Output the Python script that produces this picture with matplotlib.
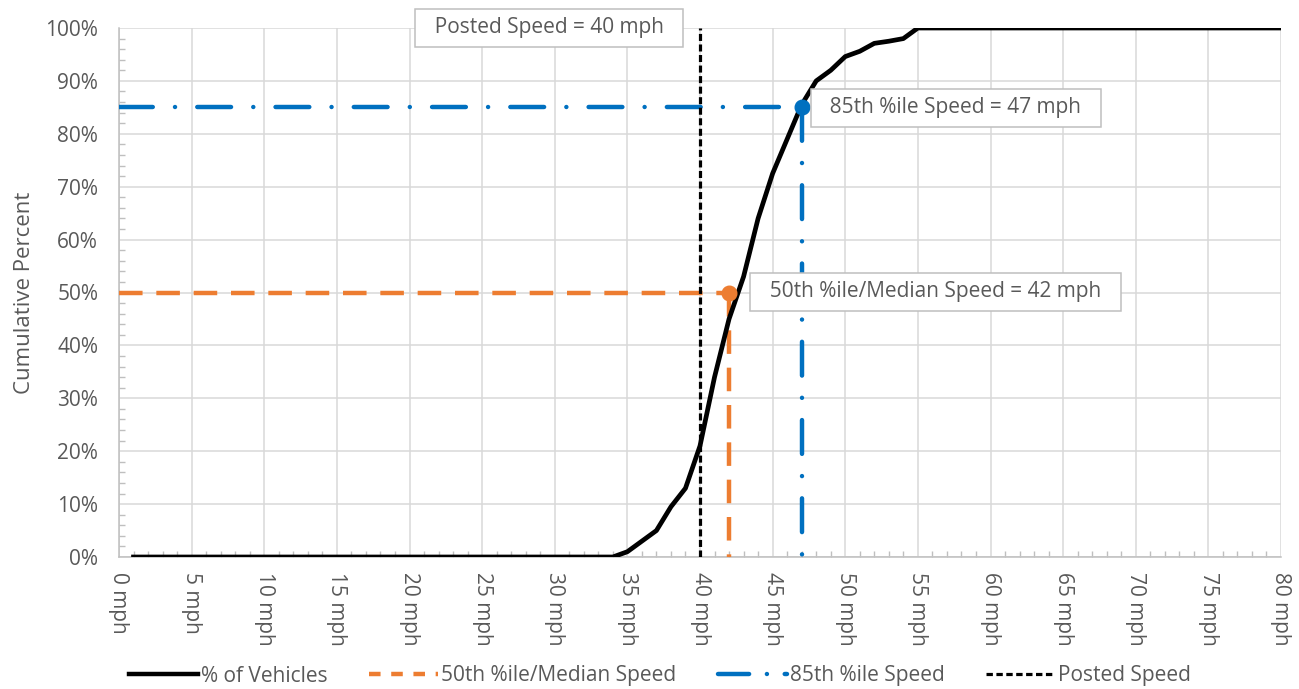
import matplotlib
matplotlib.use("Agg")
import matplotlib.pyplot as plt
from matplotlib.ticker import MultipleLocator, FuncFormatter
from matplotlib.lines import Line2D

speeds = list(range(1, 81))
pct_vehicles = [0, 0, 0, 0, 0, 0, 0, 0, 0, 0,
                0, 0, 0, 0, 0, 0, 0, 0, 0, 0,
                0, 0, 0, 0, 0, 0, 0, 0, 0, 0,
                0, 0, 0, 0, 1, 3, 5, 9.5, 13, 21,
                34, 45, 53, 64, 72.5, 79, 85.5, 90, 92, 94.6,
                95.6, 97.1, 97.5, 98, 100, 100, 100, 100, 100, 100,
                100, 100, 100, 100, 100, 100, 100, 100, 100, 100,
                100, 100, 100, 100, 100, 100, 100, 100, 100, 100]

median_speed = 42
median_pct = 50
p85_speed = 47
p85_pct = 85
posted_speed = 40

x_ticks = list(range(0, 81, 5))
y_ticks = list(range(0, 101, 10))

legend_labels = ["% of Vehicles", "50th %ile/Median Speed", "85th %ile Speed", "Posted Speed"]
label_median = "50th %ile/Median Speed = 42 mph"
label_p85 = "85th %ile Speed = 47 mph"
label_posted = "Posted Speed = 40 mph"

plt.rcParams['font.family'] = ['Open Sans', 'DejaVu Sans']
TXT = '#595959'
GRID = '#d9d9d9'
AX = '#bfbfbf'
ORANGE = '#ed7d31'
BLUE = '#0070c0'
FS = 15

fig = plt.figure(figsize=(12.99, 6.89), dpi=100)
ax = fig.add_axes([119/1299, 1 - 557/689, (1281-119)/1299, (557-28)/689])

ax.set_xlim(0, 80)
ax.set_ylim(0, 100)
ax.set_xticks(x_ticks)
ax.set_yticks(y_ticks)
ax.xaxis.set_minor_locator(MultipleLocator(1))
ax.yaxis.set_minor_locator(MultipleLocator(2))
ax.xaxis.set_major_formatter(FuncFormatter(lambda v, p: f"{int(v)} mph"))
ax.yaxis.set_major_formatter(FuncFormatter(lambda v, p: f"{int(v)}%"))
ax.grid(True, which='major', color=GRID, lw=1.1, zorder=0)
for s in ['top', 'right']:
    ax.spines[s].set_visible(False)
for s in ['left', 'bottom']:
    ax.spines[s].set_color(AX)
    ax.spines[s].set_linewidth(1.1)
ax.tick_params(axis='both', which='major', length=0, labelsize=FS, labelcolor=TXT)
ax.tick_params(axis='x', which='major', pad=11)
ax.tick_params(axis='y', which='major', pad=15)
ax.tick_params(axis='both', which='minor', direction='in', length=4, color=AX, width=1)
for lab in ax.get_xticklabels():
    lab.set_rotation(-90)
ax.set_ylabel("Cumulative Percent", fontsize=16, color=TXT)
ax.yaxis.set_label_coords(-84/1162, 0.5)

# reference lines
lw_ref = 3.2
ax.plot([0, median_speed], [median_pct, median_pct], color=ORANGE, lw=lw_ref,
        dashes=(5.3, 3.1), zorder=3)
ax.plot([median_speed, median_speed], [median_pct, 0], color=ORANGE, lw=lw_ref,
        dashes=(5.3, 3.1), zorder=3)
blue_dash = (7.6, 5.0, 0.01, 5.0)
ax.plot([0, p85_speed], [p85_pct, p85_pct], color=BLUE, lw=lw_ref,
        dashes=blue_dash, dash_capstyle='round', zorder=3)
ax.plot([p85_speed, p85_speed], [p85_pct, 0], color=BLUE, lw=lw_ref,
        dashes=blue_dash, dash_capstyle='round', zorder=3)
ax.plot([posted_speed, posted_speed], [0, 100], color='black', lw=2.3,
        dashes=(2.2, 1.1), zorder=4)

ax.plot(speeds, pct_vehicles, color='black', lw=3.4, zorder=5, solid_joinstyle='round')

ax.plot([median_speed], [median_pct], 'o', color=ORANGE, ms=10.5, zorder=6)
ax.plot([p85_speed], [p85_pct], 'o', color=BLUE, ms=10.5, zorder=6)

box = dict(boxstyle='square,pad=0.42', fc='white', ec='#bfbfbf', lw=1.1)
ax.text(29.6, 100, "  " + label_posted + "  ", ha='center', va='center', fontsize=FS,
        color=TXT, bbox=box, zorder=7, clip_on=False)
ax.text(57.6, 84.9, "  " + label_p85 + "  ", ha='center', va='center', fontsize=FS,
        color=TXT, bbox=box, zorder=7)
ax.text(56.2, 50.1, "  " + label_median + "  ", ha='center', va='center', fontsize=FS,
        color=TXT, bbox=box, zorder=7)

handles = [
    Line2D([], [], color='black', lw=3.2),
    Line2D([], [], color=ORANGE, lw=3.2, dashes=(2.6, 2.4)),
    Line2D([], [], color=BLUE, lw=3.2, dashes=(7.0, 4.0, 0.01, 4.0), dash_capstyle='round'),
    Line2D([], [], color='black', lw=2.3, dashes=(2.0, 1.1)),
]
leg = fig.legend(handles, legend_labels, loc='center', bbox_to_anchor=(660/1299, 1 - 676/689),
                 ncol=4, frameon=False, fontsize=FS, handlelength=3.3,
                 handletextpad=0.15, columnspacing=2.0)
for t in leg.get_texts():
    t.set_color(TXT)

fig.savefig("out.png", dpi=100)
